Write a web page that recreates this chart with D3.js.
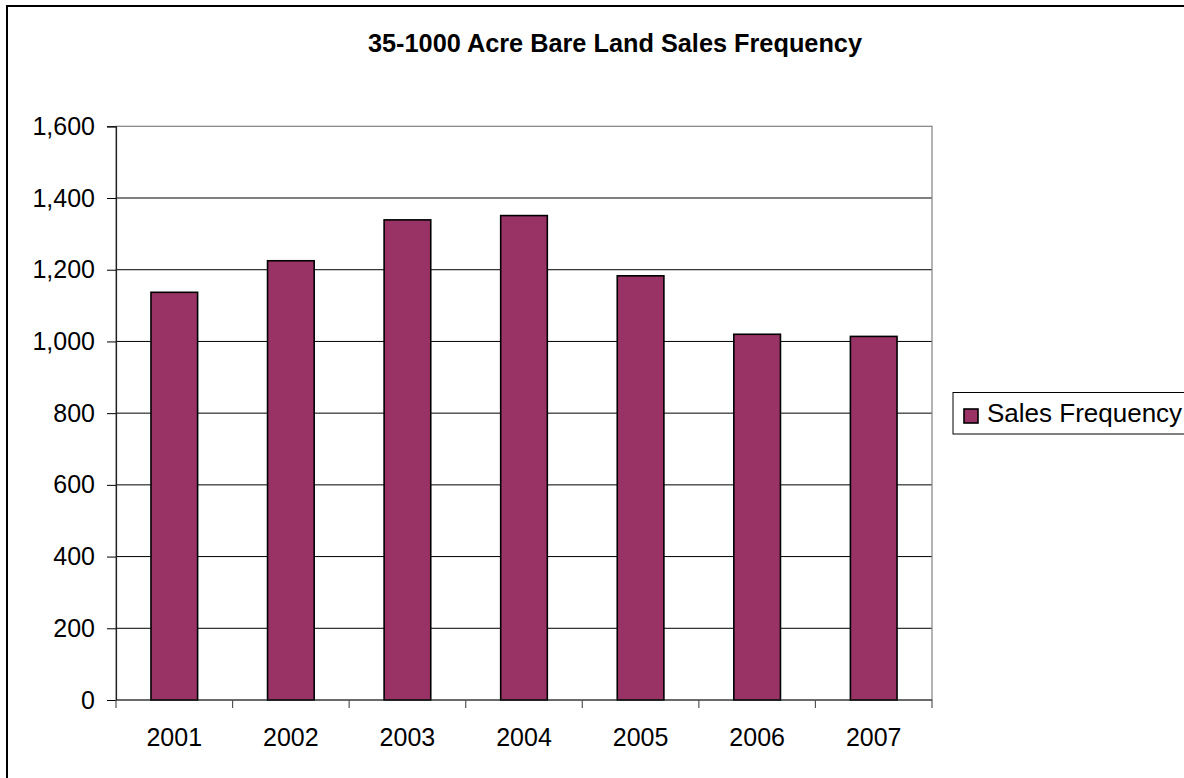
<!DOCTYPE html>
<html>
<head>
<meta charset="utf-8">
<script src="https://cdn.jsdelivr.net/npm/d3@7"></script>
<style>
  body { margin: 0; background: #fff; }
  svg { display: block; font-family: "Liberation Sans", Arial, sans-serif; }
</style>
</head>
<body>
<div id="chart"></div>
<script>
// data
const years = ["2001", "2002", "2003", "2004", "2005", "2006", "2007"];
const salesFrequency = [1137, 1225, 1339, 1351, 1183, 1020, 1014];
const yTicks = [0, 200, 400, 600, 800, 1000, 1200, 1400, 1600];
const seriesName = "Sales Frequency";
const chartTitle = "35-1000 Acre Bare Land Sales Frequency";

function drawChart() {
  const width = 1184,
    height = 778,
    plot = { "left": 116, "right": 932, "top": 126.3, "bottom": 700 }

  const svg = d3.select("#chart").append("svg")
    .attr("width", width)
    .attr("height", height)

  // outer chart frame (only top/left visible in the crop)
  svg.append("rect")
    .attr("x", 7).attr("y", 6)
    .attr("width", width + 20).attr("height", height + 20)
    .attr("fill", "#fff")
    .attr("stroke", "#000")
    .attr("stroke-width", 2)

  let x = d3.scaleBand().domain(years).range([plot.left, plot.right])
  let y = d3.scaleLinear().domain([0, 1600]).range([plot.bottom, plot.top])

  // gridlines
  svg.append("g").selectAll("line")
    .data(yTicks.filter(d => d > 0 && d < 1600))
    .enter().append("line")
    .attr("x1", plot.left).attr("x2", plot.right)
    .attr("y1", d => y(d)).attr("y2", d => y(d))
    .attr("stroke", "#000")
    .attr("stroke-width", 1)

  // plot area border
  svg.append("rect")
    .attr("x", plot.left).attr("y", y(1600))
    .attr("width", plot.right - plot.left)
    .attr("height", plot.bottom - y(1600))
    .attr("fill", "none")
    .attr("stroke", "#808080")
    .attr("stroke-width", 1.2)

  // bars, gap width 150% like Excel
  let barW = x.bandwidth() / 2.5
  svg.append("g").selectAll("rect")
    .data(salesFrequency)
    .enter().append("rect")
    .attr("x", (d, i) => x(years[i]) + (x.bandwidth() - barW) / 2)
    .attr("y", d => y(d))
    .attr("width", barW)
    .attr("height", d => y(0) - y(d))
    .attr("fill", "#993366")
    .attr("stroke", "#000")
    .attr("stroke-width", 1.6)

  // y axis
  let yAxis = svg.append("g")
    .attr("transform", `translate(${plot.left},0)`)
    .call(d3.axisLeft(y).tickValues(yTicks).tickFormat(d3.format(",")).tickSize(9).tickPadding(12))
  yAxis.select(".domain").attr("stroke", "#222").attr("stroke-width", 1.2)
  yAxis.selectAll(".tick line").attr("stroke", "#000")
  yAxis.selectAll(".tick text")
    .attr("font-size", 25)
    .attr("font-family", "Liberation Sans, Arial, sans-serif")
    .attr("fill", "#000")

  // x axis: ticks at category boundaries
  let xAxisG = svg.append("g")
  xAxisG.append("line")
    .attr("x1", plot.left).attr("x2", plot.right)
    .attr("y1", plot.bottom).attr("y2", plot.bottom)
    .attr("stroke", "#222").attr("stroke-width", 1.2)
  xAxisG.selectAll("line.tick")
    .data(years.concat(["end"]))
    .enter().append("line")
    .attr("class", "tick")
    .attr("x1", d => d === "end" ? plot.right : x(d))
    .attr("x2", d => d === "end" ? plot.right : x(d))
    .attr("y1", plot.bottom).attr("y2", plot.bottom + 8)
    .attr("stroke", "#555").attr("stroke-width", 1.2)
  xAxisG.selectAll("text")
    .data(years)
    .enter().append("text")
    .text(d => d)
    .attr("x", d => x(d) + x.bandwidth() / 2)
    .attr("y", 746)
    .attr("text-anchor", "middle")
    .attr("font-size", 25)
    .attr("fill", "#000")

  // title
  svg.append("text")
    .text(chartTitle)
    .attr("x", 615)
    .attr("y", 52)
    .attr("text-anchor", "middle")
    .attr("font-size", 25.3)
    .attr("font-weight", "bold")
    .attr("fill", "#000")

  // legend
  let legend = svg.append("g")
  legend.append("rect")
    .attr("x", 953).attr("y", 392.5)
    .attr("width", 260).attr("height", 41.5)
    .attr("fill", "#fff")
    .attr("stroke", "#000").attr("stroke-width", 1)
  legend.append("rect")
    .attr("x", 964).attr("y", 409)
    .attr("width", 14).attr("height", 14)
    .attr("fill", "#993366")
    .attr("stroke", "#000").attr("stroke-width", 1.6)
  legend.append("text")
    .text(seriesName)
    .attr("x", 987)
    .attr("y", 422)
    .attr("font-size", 26)
    .attr("fill", "#000")
}

drawChart()
</script>
</body>
</html>
